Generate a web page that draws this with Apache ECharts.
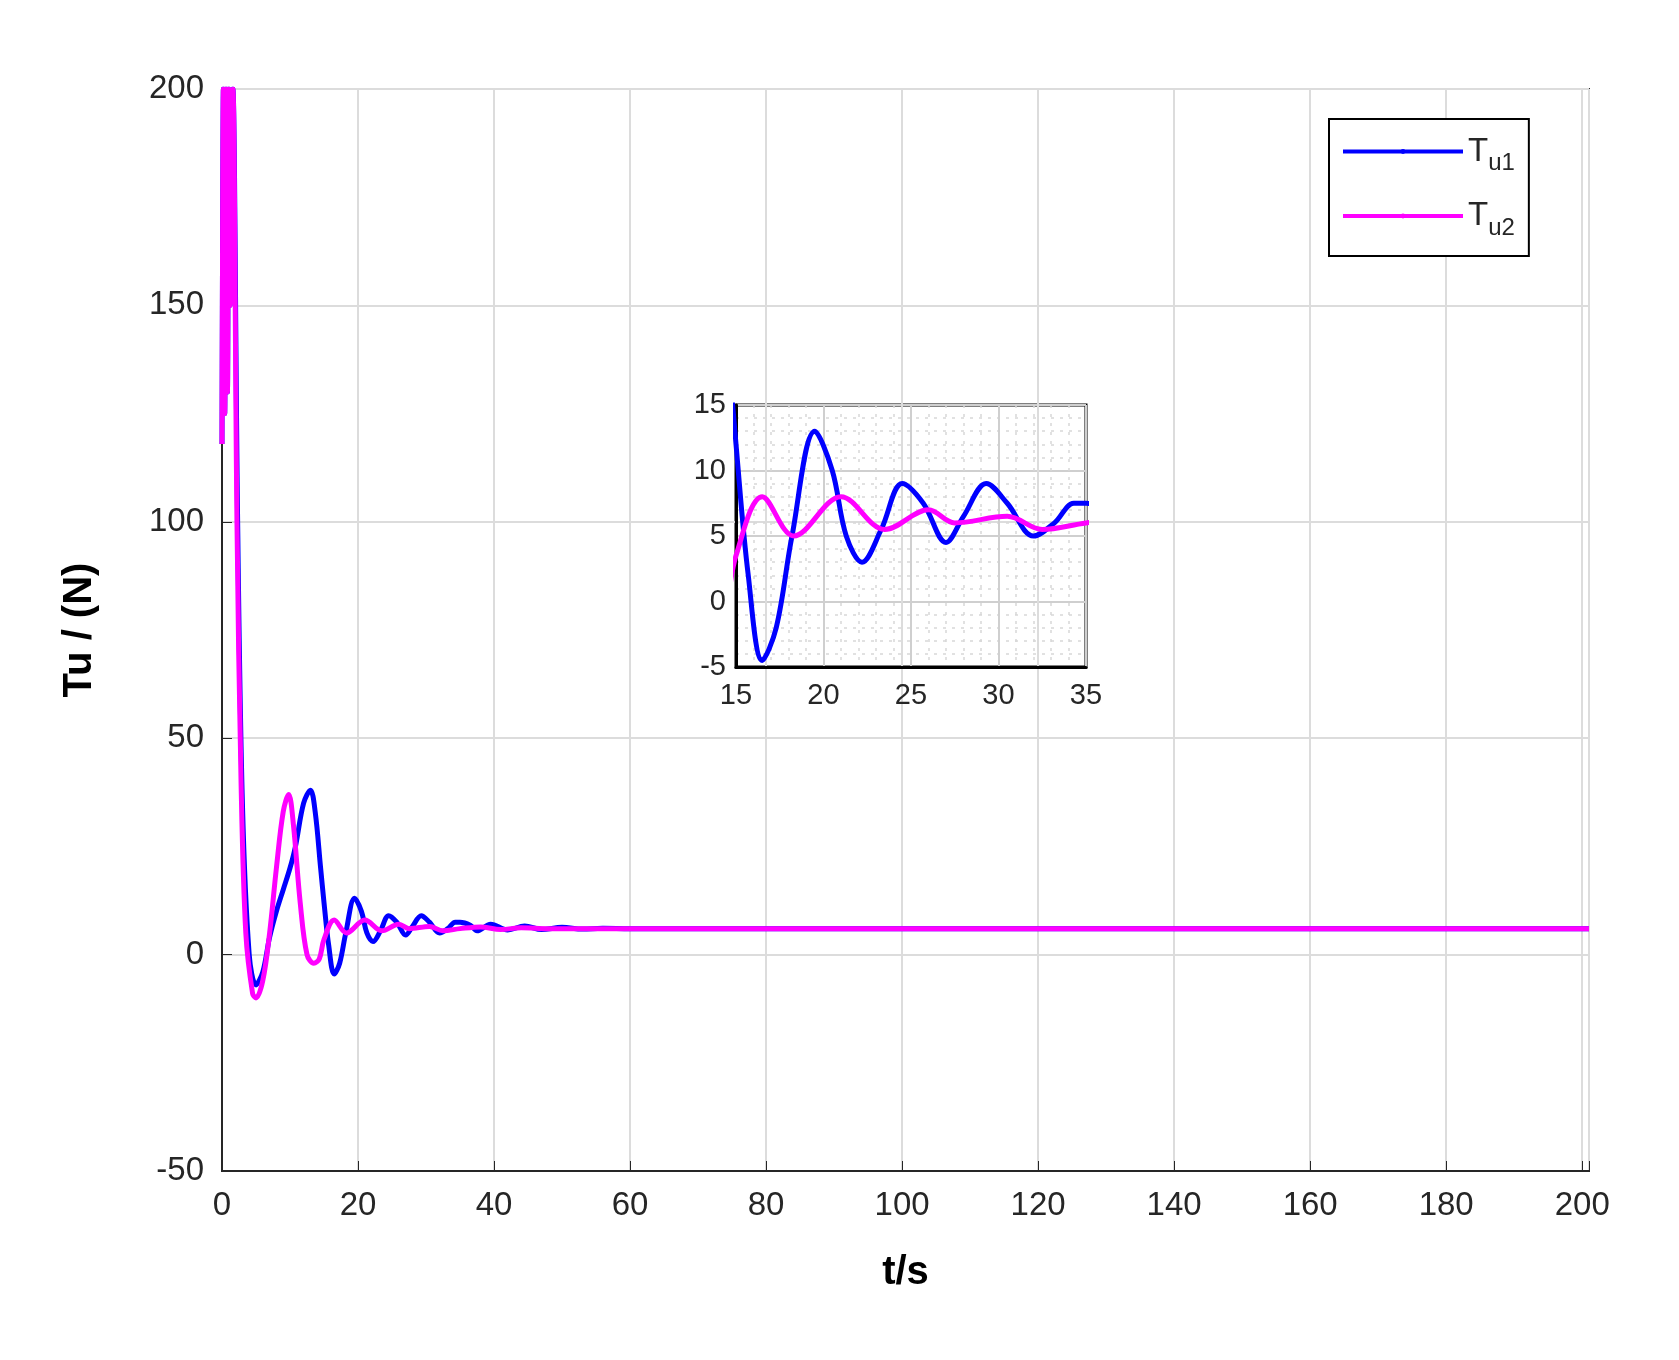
<!DOCTYPE html>
<html><head><meta charset="utf-8">
<script src="https://cdn.jsdelivr.net/npm/echarts@6/dist/echarts.min.js"></script>
<style>html,body{margin:0;background:#fff}#c{width:1679px;height:1360px}</style>
</head><body><div id="c"></div>
<script>
const xTicks = [0,20,40,60,80,100,120,140,160,180,200];
const yTicks = [-50,0,50,100,150,200];
const tu1 = [[0,118],[0.2,200],[0.4,125],[0.6,200],[0.8,130],[1.0,200],[1.2,150],[1.6,200],[2.3,100],[3,35],[4,0],[5,-7],[6,-4],[7,4],[8,10],[9,15],[10,20],[10.8,25],[12,35],[13,38],[13.7,33],[14.5,20],[15,12],[15.7,2],[16.5,-4.5],[17.3,-2],[18.2,5],[19.5,13],[20.5,10],[21.3,5],[22.2,3],[23.3,5.5],[24.5,9],[25.7,7.5],[27,4.5],[28,6.5],[29.3,9],[30.5,7.5],[32,5],[33.2,6],[34.3,7.5],[35,7.5],[36.5,6.8],[37.5,5.5],[39.5,7],[42,5.7],[44.5,6.6],[47,5.8],[50,6.3],[53,5.9],[56,6.1],[60,6],[80,6],[120,6],[160,6],[201,6]];
const tu2 = [[0,118],[0.2,200],[0.4,125],[0.6,200],[0.8,130],[1.0,200],[1.2,150],[1.6,200],[2.2,100],[2.8,40],[3.5,5],[4.5,-9],[5,-10],[6,-6],[7,5],[8,20],[9,33],[9.8,37],[10.5,30],[11.5,12],[12.5,0],[13.5,-2],[14.3,-1],[15,3.5],[16.5,8],[18.3,5],[21,8],[23.5,5.5],[26,7],[27.5,6],[30.5,6.5],[32.5,5.5],[35,6],[38,6.4],[41,5.8],[44,6.2],[48,6],[60,6],[120,6],[201,6]];
const insetX = [15,20,25,30,35];
const insetY = [-5,0,5,10,15];
const txt = '#262626';
const chart = echarts.init(document.getElementById('c'));
chart.setOption({
  animation:false,
  legend:{data:['T_u1','T_u2'],orient:'vertical',left:1329,top:119,
    padding:[16,14,16,12],itemGap:24,itemWidth:120,itemHeight:6,
    backgroundColor:'#fff',borderColor:'#000',borderWidth:2,
    lineStyle:{width:4},
    formatter:n=>'T{s|'+n.slice(2)+'}',
    textStyle:{fontSize:33,color:txt,fontFamily:'Liberation Sans',rich:{s:{fontSize:24,verticalAlign:'bottom',padding:[24,0,0,0],color:txt}}}},
  grid:[{left:222,right:90,top:89,bottom:189,show:true,borderColor:txt,borderWidth:2},
        {left:736,top:405,width:350,height:262,show:true,borderColor:'#000',borderWidth:3}],
  xAxis:[{type:'value',gridIndex:0,min:0,max:201,interval:20,
    name:'t/s',nameLocation:'middle',nameGap:82,nameTextStyle:{fontSize:40,fontWeight:'bold',color:'#000',fontFamily:'Liberation Sans'},
    axisLine:{onZero:false,lineStyle:{color:txt,width:2}},axisTick:{inside:true,length:10,lineStyle:{color:txt}},
    axisLabel:{fontSize:33,color:txt,margin:18,fontFamily:'Liberation Sans',formatter:v=>xTicks.includes(v)?v:''},
    splitLine:{lineStyle:{color:'#dcdcdc',width:2}}},
   {type:'value',gridIndex:1,min:15,max:35,interval:5,
    axisLine:{onZero:false,lineStyle:{color:'#000',width:3}},axisTick:{show:false},
    axisLabel:{fontSize:29,color:txt,margin:14,fontFamily:'Liberation Sans',formatter:v=>insetX.includes(v)?v:''},
    splitLine:{lineStyle:{color:'#cfcfcf',width:2}},
    minorTick:{show:false,splitNumber:5},minorSplitLine:{show:true,lineStyle:{color:'#d8d8d8',type:[3,6],width:1.5}}}],
  yAxis:[{type:'value',gridIndex:0,min:-50,max:200,interval:50,
    name:'Tu / (N)',nameLocation:'middle',nameGap:122,nameTextStyle:{fontSize:40,fontWeight:'bold',color:'#000',fontFamily:'Liberation Sans'},
    axisLine:{onZero:false,lineStyle:{color:txt,width:2}},axisTick:{inside:true,length:10,lineStyle:{color:txt}},
    axisLabel:{fontSize:33,color:txt,margin:18,fontFamily:'Liberation Sans',formatter:v=>yTicks.includes(v)?v:''},
    splitLine:{lineStyle:{color:'#dcdcdc',width:2}}},
   {type:'value',gridIndex:1,min:-5,max:15,interval:5,
    axisLine:{onZero:false,lineStyle:{color:'#000',width:3}},axisTick:{show:false},
    axisLabel:{fontSize:29,color:txt,margin:10,fontFamily:'Liberation Sans',formatter:v=>insetY.includes(v)?v:''},
    splitLine:{lineStyle:{color:'#cfcfcf',width:2}},
    minorTick:{show:false,splitNumber:5},minorSplitLine:{show:true,lineStyle:{color:'#d8d8d8',type:[3,6],width:1.5}}}],
  series:[
   {name:'T_u1',type:'line',data:tu1,xAxisIndex:0,yAxisIndex:0,smooth:0.35,symbol:'none',lineStyle:{color:'#0000ff',width:5},itemStyle:{color:'#0000ff'},clip:true},
   {name:'T_u2',type:'line',data:tu2,xAxisIndex:0,yAxisIndex:0,smooth:0.35,symbol:'none',lineStyle:{color:'#ff00ff',width:5},itemStyle:{color:'#ff00ff'},clip:true},
   {name:'T_u1',type:'line',data:tu1,xAxisIndex:1,yAxisIndex:1,smooth:0.35,symbol:'none',lineStyle:{color:'#0000ff',width:5},clip:true},
   {name:'T_u2',type:'line',data:tu2,xAxisIndex:1,yAxisIndex:1,smooth:0.35,symbol:'none',lineStyle:{color:'#ff00ff',width:5},clip:true}
  ]
});
</script></body></html>
